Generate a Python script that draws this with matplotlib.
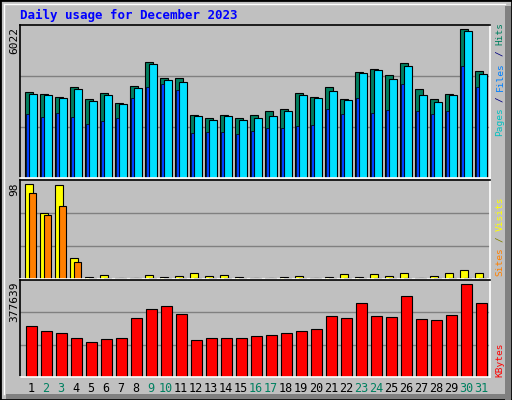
import matplotlib
matplotlib.use("Agg")
import matplotlib.pyplot as plt
from matplotlib.patches import Rectangle
from matplotlib.lines import Line2D

days = list(range(1, 32))
weekend = [2, 3, 9, 10, 16, 17, 23, 24, 30, 31]
hits = [3470, 3410, 3300, 3670, 3200, 3450, 3030, 3740, 4680, 4050, 4050, 2550, 2410, 2550, 2410, 2550, 2700, 2790, 3450, 3270, 3670, 3200, 4290, 4420, 4190, 4660, 3590, 3200, 3410, 6022, 4340]
files = [3400, 3370, 3230, 3610, 3130, 3370, 3000, 3630, 4630, 3970, 3870, 2520, 2340, 2520, 2340, 2450, 2520, 2700, 3370, 3230, 3520, 3160, 4250, 4360, 4020, 4520, 3360, 3090, 3360, 5950, 4230]
pages = [2590, 2490, 2620, 2490, 2180, 2320, 2420, 3240, 3700, 3790, 3580, 1840, 1870, 1870, 1800, 1910, 2040, 2020, 2110, 2140, 2810, 2580, 3220, 2640, 2770, 3790, 2700, 2580, 2720, 4540, 3690]
visits = [98, 68, 97, 22, 2, 4, 1, 1, 4, 2, 3, 6, 3, 4, 2, 1, 1, 2, 3, 1, 2, 5, 2, 5, 3, 6, 1, 3, 6, 9, 6]
sites = [89, 66, 76, 18, 1, 1, 1, 1, 1, 1, 1, 1, 1, 1, 1, 1, 1, 1, 1, 1, 1, 1, 1, 1, 1, 1, 1, 1, 1, 1, 1]
kbytes = [208000, 188000, 179000, 159000, 142000, 154000, 159000, 241000, 278000, 291000, 257000, 150000, 159000, 159000, 159000, 167000, 171000, 179000, 188000, 196000, 250000, 241000, 303000, 250000, 246000, 328000, 237000, 232000, 254000, 377639, 303000]

W, H = 512, 400
fig = plt.figure(figsize=(W/100, H/100), dpi=100)
fig.patch.set_facecolor('#c0c0c0')
mono = 'DejaVu Sans Mono'

def ax_px(x0, y0, x1, y1):
    return fig.add_axes([x0/W, 1-y1/H, (x1-x0)/W, (y1-y0)/H])

# figure bevel
fig.add_artist(Rectangle((0, 0), 1, 1, transform=fig.transFigure, fill=False, ec='black', lw=2))
fig.add_artist(Rectangle((505/W, 0), 6/W, 1-6/H, transform=fig.transFigure, fc='#808080', ec='none'))
fig.add_artist(Rectangle((6/W, 1/H), 1-7/W, 5/H, transform=fig.transFigure, fc='#808080', ec='none'))
fig.add_artist(Line2D([4/W, 4/W], [6/H, 1-4/H], transform=fig.transFigure, color='white', lw=1))
fig.add_artist(Line2D([4/W, 505/W], [1-4/H, 1-4/H], transform=fig.transFigure, color='white', lw=1))

def panel(y0, y1, vmax, barh):
    ax = ax_px(20, y0, 490, y1)
    ax.set_facecolor('#c0c0c0')
    ax.set_xlim(0, 470)
    top = vmax * (y1 - y0) / barh
    ax.set_ylim(0, top)
    for f in (1/3, 2/3):
        ax.axhline(top*f, color='#808080', lw=1, zorder=0)
    ax.set_xticks([]); ax.set_yticks([])
    ax.spines['left'].set_color('black'); ax.spines['top'].set_color('black')
    ax.spines['right'].set_color('white'); ax.spines['bottom'].set_color('white')
    for s in ax.spines.values():
        s.set_linewidth(1.2)
    return ax

ax1 = panel(25, 178, max(hits), 148.7)
ax2 = panel(180, 279, max(visits), 94.7)
ax3 = panel(280, 377, max(kbytes), 92.7)

xs = [(d-1)*15 for d in days]
ax1.bar([x+5.3 for x in xs], hits, width=7.3, align='edge', color='#008060', ec='black', lw=0.8)
ax1.bar([x+9.3 for x in xs], files, width=7.3, align='edge', color='#00E0FF', ec='black', lw=0.8)
ax1.bar([x+6.3 for x in xs], pages, width=2.2, align='edge', color='#0040FF', ec='black', lw=0.5)

ax2.bar([x+5.3 for x in xs], visits, width=8.0, align='edge', color='#FFFF00', ec='black', lw=0.8)
ax2.bar([x+9.3 for x in xs], sites, width=7.0, align='edge', color='#FF8000', ec='black', lw=0.8)

ax3.bar([x+6 for x in xs], kbytes, width=10.5, align='edge', color='#FF0000', ec='black', lw=0.8)

fig.text(20/W, 1-15/H, 'Daily usage for December 2023', color='#0000FF', family=mono,
         fontweight='bold', fontsize=9, va='center', ha='left')

fig.text(14/W, 1-27/H, '6022', rotation=90, family=mono, fontsize=8, va='top', ha='center')
fig.text(14/W, 1-182/H, '98', rotation=90, family=mono, fontsize=8, va='top', ha='center')
fig.text(14/W, 1-282/H, '377639', rotation=90, family=mono, fontsize=8, va='top', ha='center')

FS = 6.8
CW = FS * 0.602 * 100 / 72

def rlabel(y_bottom, parts):
    y = y_bottom
    for txt, col in parts:
        s = txt.strip()
        lead = len(txt) - len(txt.lstrip())
        fig.text(500/W, 1-(y - lead*CW)/H, s, rotation=90, family=mono, fontsize=FS,
                 color=col, va='bottom', ha='center')
        y -= len(txt) * CW
rlabel(136, [('Pages', '#00C0C0'), (' / ', '#000080'), ('Files', '#0080FF'), (' / ', '#000080'), ('Hits', '#008060')])
rlabel(276, [('Sites', '#FF8000'), (' / ', '#808000'), ('Visits', '#FFFF00')])
rlabel(377, [('KBytes', '#FF0000')])

for d, x in zip(days, xs):
    col = '#008060' if d in weekend else 'black'
    fig.text((20+x+11)/W, 1-389/H, str(d), color=col, family=mono, fontsize=8.5,
             ha='center', va='center')

fig.savefig('out.png', dpi=100, facecolor=fig.get_facecolor())
